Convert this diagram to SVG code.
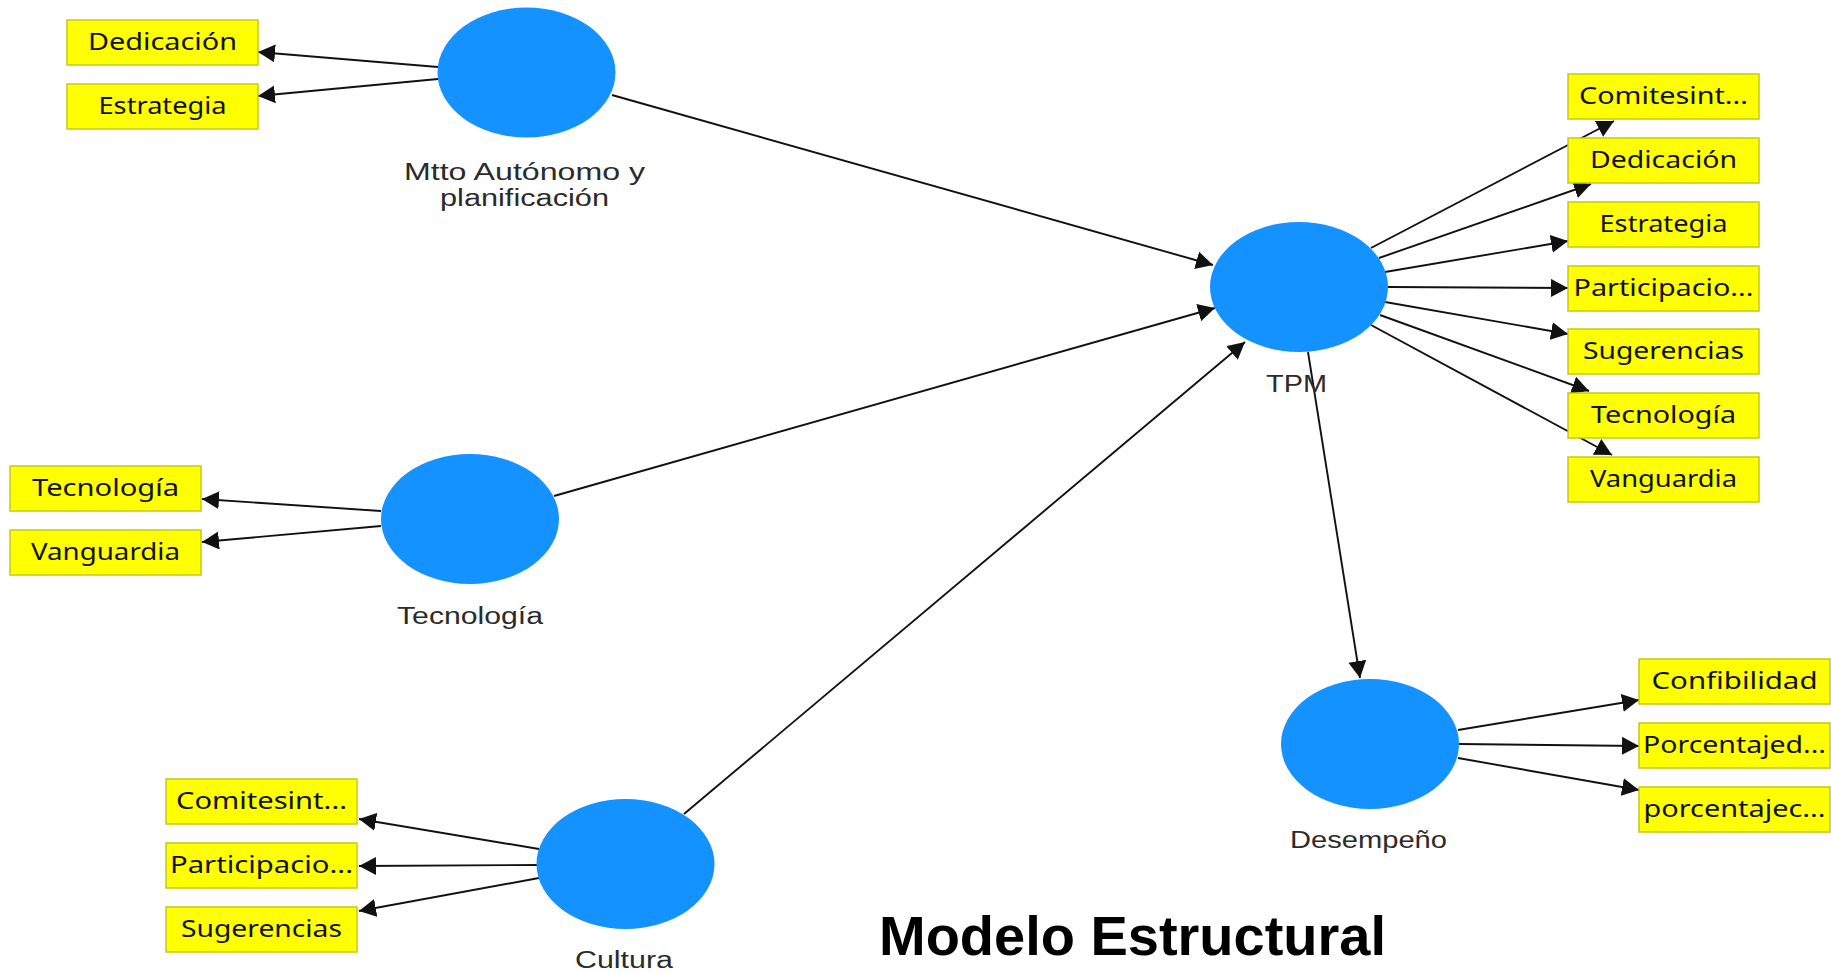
<svg xmlns="http://www.w3.org/2000/svg" width="1831" height="973" viewBox="0 0 1831 973">
<style>
.lv{fill:#1492ff;}
.ind rect{fill:#ffff00;stroke:#c8c814;stroke-width:1.5;}
.ind text{font-family:"Noto Sans","Liberation Sans",sans-serif;font-size:23px;fill:#111;text-anchor:middle;}
.lab{font-family:"Liberation Sans",Arial,sans-serif;font-size:23px;fill:#2b2b2b;text-anchor:middle;}
#edges line{stroke:#111;stroke-width:1.9;fill:none;marker-end:url(#ah);}
.title{font-family:"Liberation Sans",Arial,sans-serif;font-weight:bold;font-size:56px;fill:#000;}
</style>
<defs>
<marker id="ah" markerUnits="userSpaceOnUse" markerWidth="18" markerHeight="19" refX="17" refY="9" orient="auto">
<path d="M0,0 L17,9 L0,18 z" fill="#111"/>
</marker>
</defs>
<rect width="1831" height="973" fill="#fff"/>

<g id="edges">
<line x1="438" y1="67" x2="258" y2="52"/>
<line x1="438" y1="79" x2="258" y2="96"/>
<line x1="612" y1="95" x2="1213" y2="265"/>
<line x1="554" y1="496" x2="1215" y2="308"/>
<line x1="684" y1="814" x2="1245" y2="342"/>
<line x1="381" y1="511" x2="202" y2="499"/>
<line x1="381" y1="526" x2="202" y2="542"/>
<line x1="539" y1="849" x2="359" y2="819"/>
<line x1="539" y1="865" x2="359" y2="866"/>
<line x1="539" y1="878" x2="359" y2="911"/>
<line x1="1371" y1="248" x2="1614" y2="121"/>
<line x1="1379" y1="258" x2="1591" y2="184"/>
<line x1="1385" y1="272" x2="1568" y2="241"/>
<line x1="1388" y1="287" x2="1568" y2="288"/>
<line x1="1385" y1="302" x2="1568" y2="334"/>
<line x1="1380" y1="315" x2="1589" y2="391"/>
<line x1="1371" y1="325" x2="1612" y2="455"/>
<line x1="1308" y1="352" x2="1360" y2="678"/>
<line x1="1458" y1="730" x2="1639" y2="700"/>
<line x1="1459" y1="744" x2="1639" y2="746"/>
<line x1="1458" y1="758" x2="1639" y2="790"/>
</g>

<g id="mtto">
<ellipse class="lv" cx="526.5" cy="72.5" rx="89" ry="65"/>
<text class="lab" x="524.5" y="180" textLength="241" lengthAdjust="spacingAndGlyphs">Mtto Autónomo y</text>
<text class="lab" x="524.5" y="206" textLength="169" lengthAdjust="spacingAndGlyphs">planificación</text>
</g>
<g id="tpm">
<ellipse class="lv" cx="1299" cy="287" rx="89" ry="65"/>
<text class="lab" x="1296.5" y="392" textLength="61" lengthAdjust="spacingAndGlyphs">TPM</text>
</g>
<g id="tecnologia">
<ellipse class="lv" cx="470" cy="519" rx="89" ry="65"/>
<text class="lab" x="470" y="624" textLength="146" lengthAdjust="spacingAndGlyphs">Tecnología</text>
</g>
<g id="cultura">
<ellipse class="lv" cx="625.5" cy="864" rx="89" ry="65"/>
<text class="lab" x="624" y="968" textLength="98" lengthAdjust="spacingAndGlyphs">Cultura</text>
</g>
<g id="desempeno">
<ellipse class="lv" cx="1370" cy="744" rx="89" ry="65"/>
<text class="lab" x="1368.5" y="848" textLength="157" lengthAdjust="spacingAndGlyphs">Desempeño</text>
</g>

<g id="m_dedicacion" class="ind"><rect x="67" y="20" width="191" height="45"/><text x="162.5" y="50" textLength="149" lengthAdjust="spacingAndGlyphs">Dedicación</text></g>
<g id="m_estrategia" class="ind"><rect x="67" y="84" width="191" height="45"/><text x="162.5" y="114" textLength="128" lengthAdjust="spacingAndGlyphs">Estrategia</text></g>

<g id="t_tecnologia" class="ind"><rect x="10" y="466" width="191" height="45"/><text x="105.5" y="496" textLength="147" lengthAdjust="spacingAndGlyphs">Tecnología</text></g>
<g id="t_vanguardia" class="ind"><rect x="10" y="530" width="191" height="45"/><text x="105.5" y="560" textLength="149" lengthAdjust="spacingAndGlyphs">Vanguardia</text></g>

<g id="c_comitesint" class="ind"><rect x="166" y="779" width="191" height="45"/><text x="261.5" y="809" textLength="171" lengthAdjust="spacingAndGlyphs">Comitesint...</text></g>
<g id="c_participacio" class="ind"><rect x="166" y="843" width="191" height="45"/><text x="261.5" y="873" textLength="183" lengthAdjust="spacingAndGlyphs">Participacio...</text></g>
<g id="c_sugerencias" class="ind"><rect x="166" y="907" width="191" height="45"/><text x="261.5" y="937" textLength="161" lengthAdjust="spacingAndGlyphs">Sugerencias</text></g>

<g id="p_comitesint" class="ind"><rect x="1568" y="74" width="191" height="45"/><text x="1663.5" y="104" textLength="169" lengthAdjust="spacingAndGlyphs">Comitesint...</text></g>
<g id="p_dedicacion" class="ind"><rect x="1568" y="138" width="191" height="45"/><text x="1663.5" y="168" textLength="147" lengthAdjust="spacingAndGlyphs">Dedicación</text></g>
<g id="p_estrategia" class="ind"><rect x="1568" y="202" width="191" height="45"/><text x="1663.5" y="232" textLength="128" lengthAdjust="spacingAndGlyphs">Estrategia</text></g>
<g id="p_participacio" class="ind"><rect x="1568" y="266" width="191" height="45"/><text x="1663.5" y="296" textLength="180" lengthAdjust="spacingAndGlyphs">Participacio...</text></g>
<g id="p_sugerencias" class="ind"><rect x="1568" y="329" width="191" height="45"/><text x="1663.5" y="359" textLength="161" lengthAdjust="spacingAndGlyphs">Sugerencias</text></g>
<g id="p_tecnologia" class="ind"><rect x="1568" y="393" width="191" height="45"/><text x="1663.5" y="423" textLength="145" lengthAdjust="spacingAndGlyphs">Tecnología</text></g>
<g id="p_vanguardia" class="ind"><rect x="1568" y="457" width="191" height="45"/><text x="1663.5" y="487" textLength="147" lengthAdjust="spacingAndGlyphs">Vanguardia</text></g>

<g id="d_confibilidad" class="ind"><rect x="1639" y="659" width="191" height="45"/><text x="1734.5" y="689" textLength="166" lengthAdjust="spacingAndGlyphs">Confibilidad</text></g>
<g id="d_porcentajed" class="ind"><rect x="1639" y="723" width="191" height="45"/><text x="1734.5" y="753" textLength="183" lengthAdjust="spacingAndGlyphs">Porcentajed...</text></g>
<g id="d_porcentajec" class="ind"><rect x="1639" y="787" width="191" height="45"/><text x="1734.5" y="817" textLength="182" lengthAdjust="spacingAndGlyphs">porcentajec...</text></g>

<text class="title" x="879" y="955" textLength="507" lengthAdjust="spacingAndGlyphs">Modelo Estructural</text>
</svg>
